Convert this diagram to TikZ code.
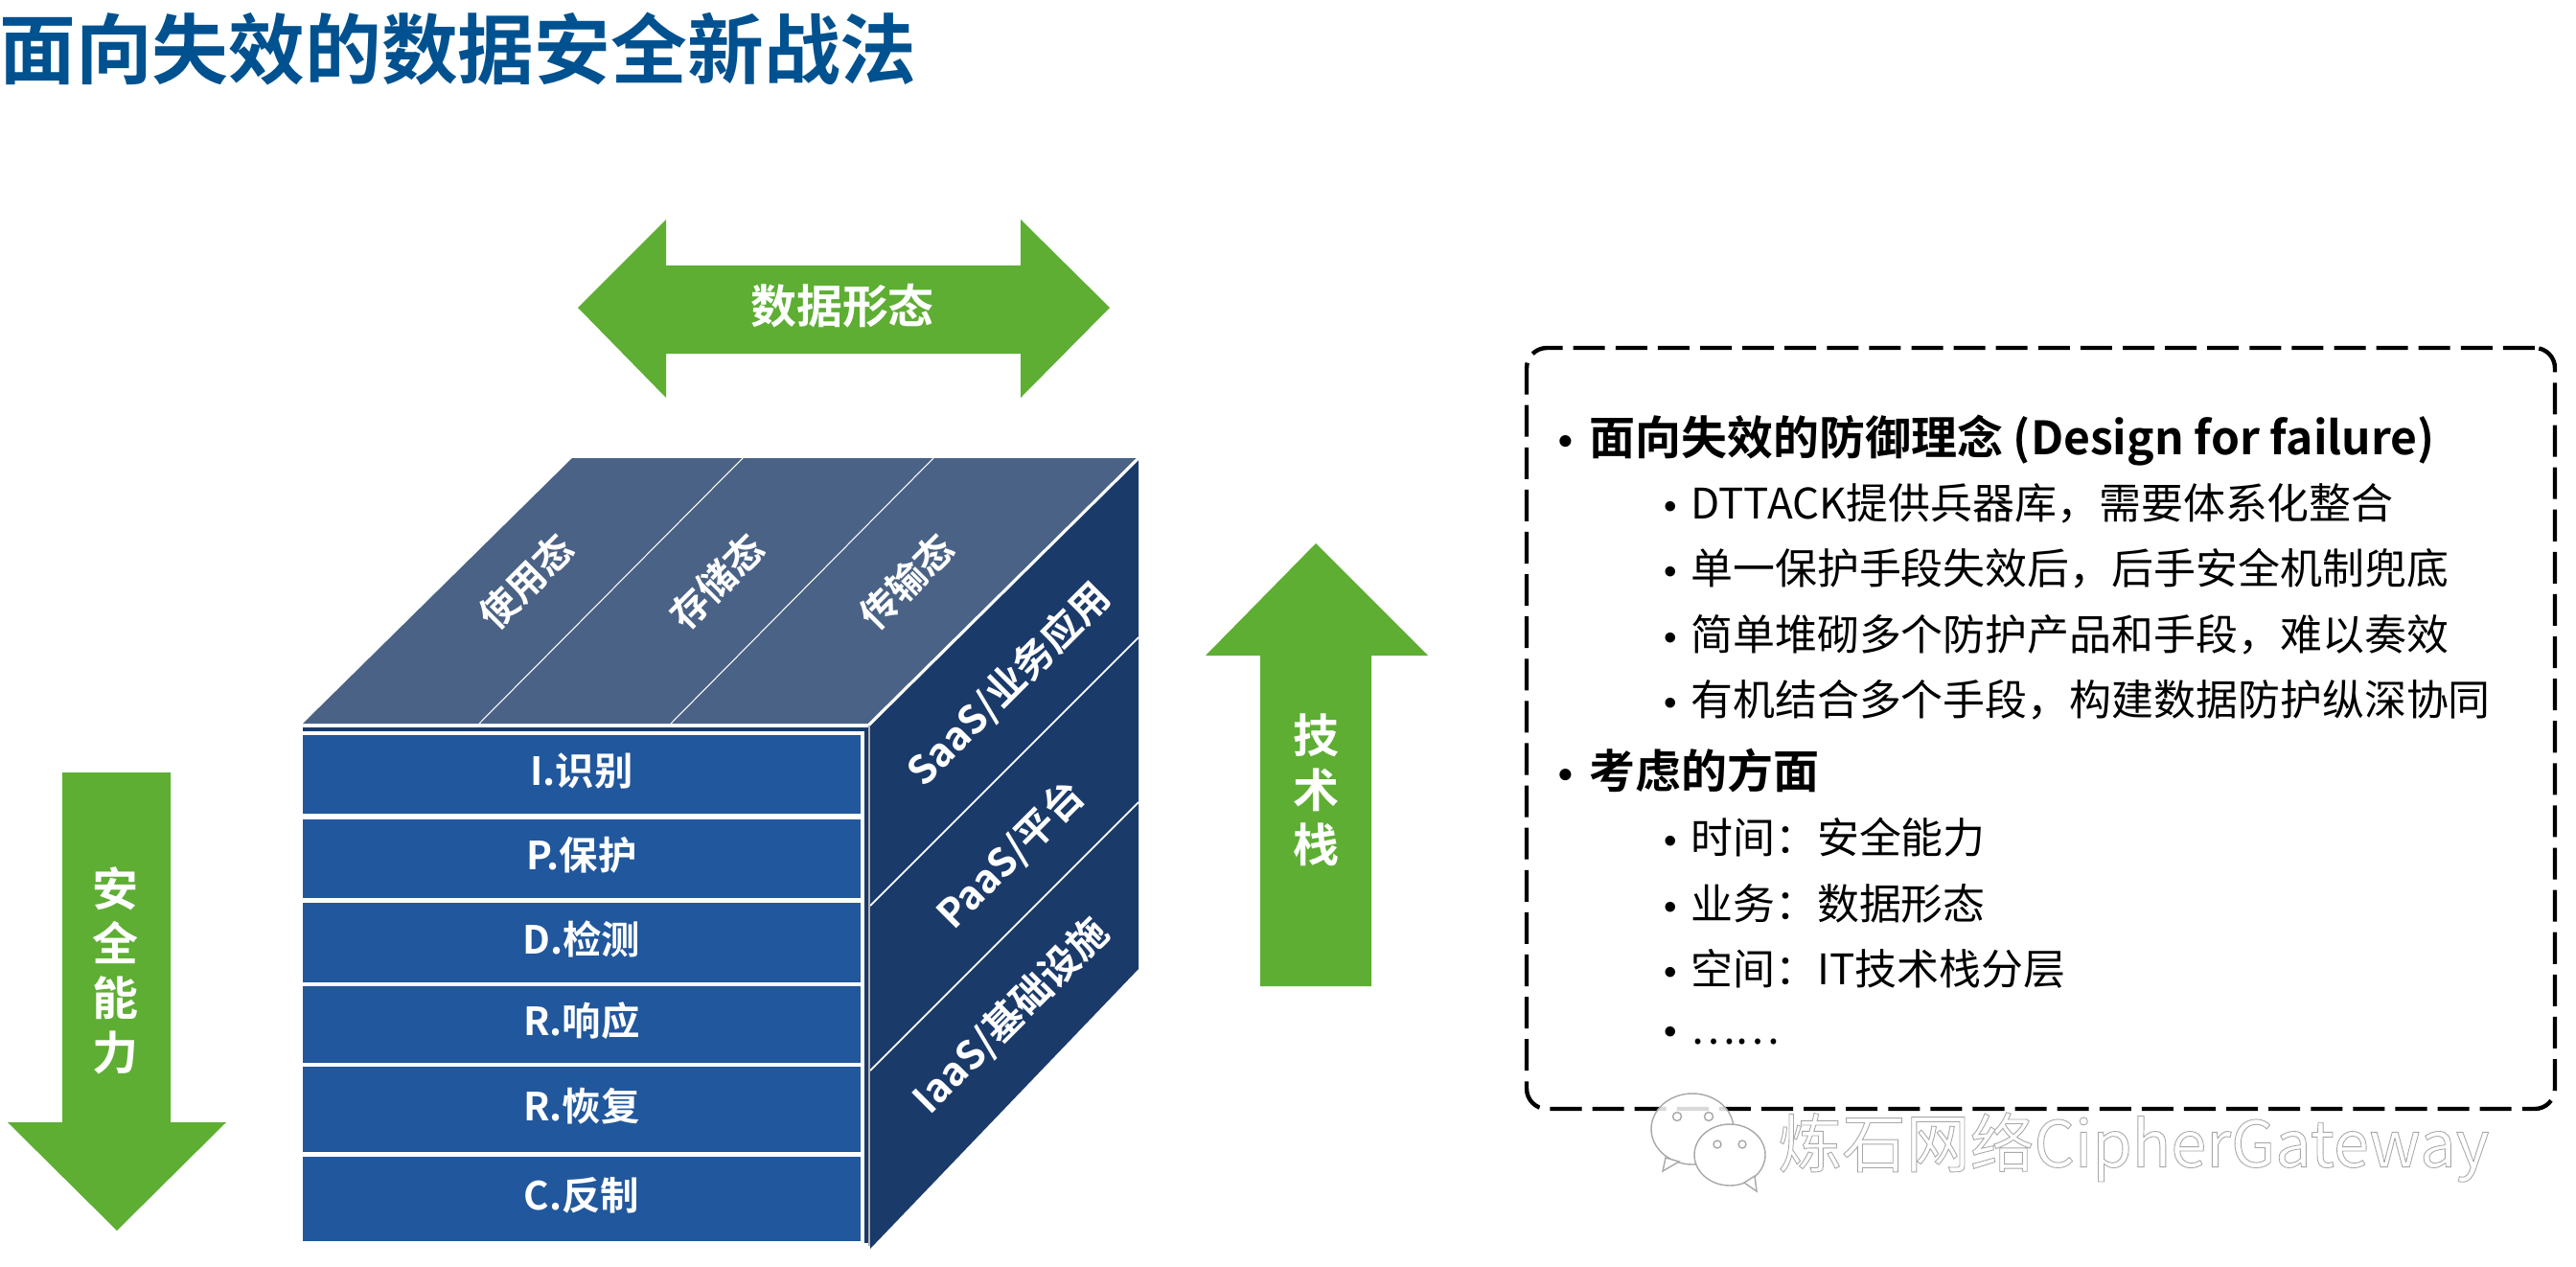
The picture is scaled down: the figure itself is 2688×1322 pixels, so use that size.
\documentclass[tikz,border=0pt]{standalone}
\usepackage{fontspec}
\setmainfont{Noto Sans CJK SC}[BoldFont={Noto Sans CJK SC Bold}]
\newfontfamily\bulletfont{Liberation Sans}
\definecolor{titleblue}{HTML}{00518F}
\definecolor{arrowgreen}{HTML}{5DAE33}
\definecolor{topface}{HTML}{4A6285}
\definecolor{sideface}{HTML}{1A3A6A}
\definecolor{frontface}{HTML}{21579C}
\definecolor{markgray}{HTML}{A8A8A8}
\newcommand{\fsize}[1]{\fontsize{#1}{#1}\selectfont}

\begin{document}
\begin{tikzpicture}[x=0.02cm,y=-0.02cm,
  arrowlabel/.style={text=white,font=\fsize{27.3}\bfseries,inner sep=0pt,align=center},
  stacklabel/.style={arrowlabel,font=\fontsize{27.3}{32.4}\selectfont\bfseries},
  cubelabel/.style={text=white,font=\fsize{23.3}\bfseries,inner sep=0pt},
  rowbox/.style={fill=frontface,text=white,font=\fsize{23}\bfseries,inner sep=0pt,
                 text height=20pt,text depth=6.4pt,minimum width=582*0.02cm},
  headline/.style={anchor=west,inner sep=0pt,font=\fsize{27.3}\bfseries,text height=24pt,text depth=3.2pt},
  subline/.style={anchor=west,inner sep=0pt,font=\fsize{25},text height=22pt,text depth=3pt}]
\useasboundingbox (0,0) rectangle (2688,1322);

\node[anchor=west,inner sep=0pt,text=titleblue,font=\fsize{45.4}\bfseries] (title) at (-1,51) {面向失效的数据安全新战法};

% green arrows
\fill[arrowgreen] (603,321) -- (695,229) -- (695,277) -- (1065,277) -- (1065,229) -- (1158,321)
                  -- (1065,415) -- (1065,369) -- (695,369) -- (695,415) -- cycle;
\fill[arrowgreen] (1373,567) -- (1490,684) -- (1431,684) -- (1431,1029) -- (1315,1029) -- (1315,684) -- (1258,684) -- cycle;
\fill[arrowgreen] (65,806) -- (178,806) -- (178,1171) -- (236,1171) -- (122,1284) -- (8,1171) -- (65,1171) -- cycle;
\node[arrowlabel] (dataform) at (879,319) {数据形态};
\node[stacklabel] (techstack) at (1373,824) {技\\术\\栈};
\node[stacklabel] (capability) at (120,1013) {安\\全\\能\\力};

% cube
\fill[topface] (316,755) -- (597,478) -- (1187,478) -- (908,755) -- cycle;
\fill[sideface] (908,757) -- (1188,478) -- (1188,1011) -- (908,1303) -- cycle;
\draw[white,line width=1.8pt] (906,757) -- (1188,478);
\draw[white,line width=0.6pt] (500,755) -- (775,478) (700,755) -- (974,478);
\draw[white,line width=1pt] (908,945) -- (1188,665) (908,1117) -- (1188,837);
\fill[sideface] (316,759) rectangle (906,1297);
\fill[white] (316,763) rectangle (902,1300);
\draw[gray!60,line width=1pt] (907,757) -- (907,1300);

\foreach \nm/\yc/\rowh/\txt in {identify/808/82/I.识别,protect/895.7/82/P.保护,detect/983.5/83/D.检测,
                              respond/1069/80/R.响应,recover/1157.5/89/R.恢复,counter/1251/88/C.反制}
  \node[rowbox,minimum height=\rowh*0.02cm] (\nm) at (607,\yc) {\txt};

\foreach \nm/\xc/\txt in {inuse/549/使用态,atrest/748/存储态,transit/946/传输态}
  \node[cubelabel,font=\fsize{22.5}\bfseries,rotate=45] (\nm) at (\xc,607) {\txt};
\node[cubelabel,rotate=45] (saas) at (1053,714) {SaaS/业务应用};
\node[cubelabel,rotate=45] (paas) at (1055,892) {PaaS/平台};
\node[cubelabel,rotate=45] (iaas) at (1055,1060) {IaaS/基础设施};

% dashed frame and its text
\node[draw,line width=2.5pt,dash pattern=on 18.8pt off 6.3pt,rounded corners=12pt,inner sep=0pt,
      minimum width=1073*0.02cm,minimum height=794*0.02cm] (frame) at (2129.5,760) {};

\foreach \nm/\yc/\txt in {headone/456/面向失效的防御理念 (Design for failure),headtwo/804/考虑的方面}
  \node[headline] (\nm) at (1658,\yc) {\llap{\bulletfont\fsize{24}•\hspace{10pt}}\txt};
\foreach \nm/\yc/\txt in {lineone/525/DTTACK提供兵器库，需要体系化整合,
                          linetwo/593/单一保护手段失效后，后手安全机制兜底,
                          linethree/662/简单堆砌多个防护产品和手段，难以奏效,
                          linefour/730/有机结合多个手段，构建数据防护纵深协同,
                          linefive/874/时间：安全能力,
                          linesix/943/业务：数据形态,
                          lineseven/1011/空间：IT技术栈分层,
                          lineeight/1073/……}
  \node[subline] (\nm) at (1764,\yc) {\llap{\bulletfont\fsize{22}•\hspace{8pt}}\txt};

% watermark
\begin{scope}[draw=markgray,fill=white,line width=0.8pt]
\filldraw[fill opacity=.85] (1766,1178) ellipse (43 and 37);
\filldraw (1738,1208) -- (1735,1222) -- (1752,1212) -- cycle;
\filldraw (1805,1205) ellipse (37 and 32);
\filldraw (1820,1234) -- (1833,1243) -- (1831,1227) -- cycle;
\draw (1750,1165) circle (4.5) (1783,1165) circle (4.5) (1792,1194) circle (4) (1818,1194) circle (4);
\end{scope}
\node[anchor=west,inner sep=0pt,font=\fsize{38}] (mark) at (1855,1197)
  {\color{markgray}\special{pdf:literal 1 Tr 0.5 w}炼石网络CipherGateway\special{pdf:literal 0 Tr}};
\end{tikzpicture}
\end{document}
